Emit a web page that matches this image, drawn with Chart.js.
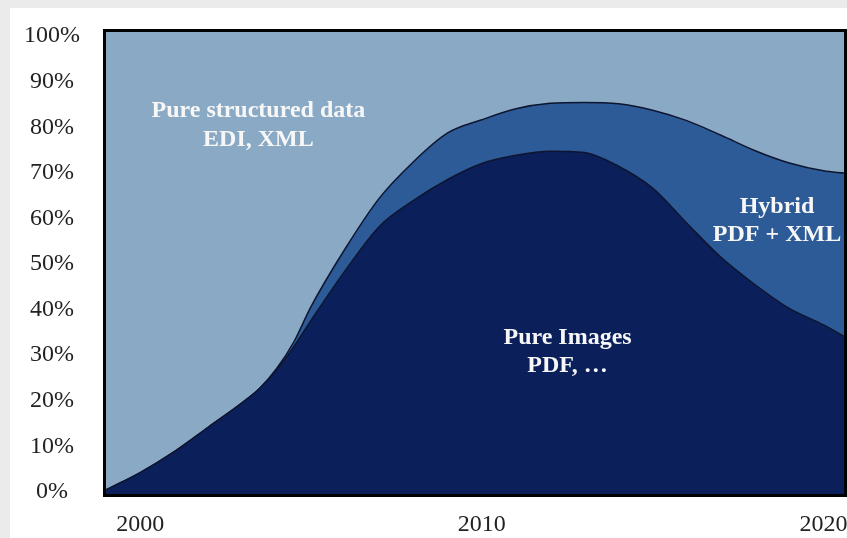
<!DOCTYPE html>
<html><head><meta charset="utf-8">
<script src="https://cdn.jsdelivr.net/npm/chart.js@4/dist/chart.umd.min.js"></script>
<style>
html,body{margin:0;padding:0;background:#ebebeb;overflow:hidden;width:847px;height:538px}
#panel{position:absolute;left:10px;top:8px;width:837px;height:530px;background:#ffffff}
#wrap{position:absolute;left:0;top:0;width:847px;height:538px}
</style></head><body>
<div id="panel"></div>
<div id="wrap"><canvas id="c" width="847" height="538"></canvas></div>
<script>
// Year positions of the sampled boundaries
const years = [1999,2000,2001,2002,2003,2003.5,2004,2004.5,2005,2006,2007,2008,2009,2010,2011,2012,2013,2014,2015,2016,2017,2018,2019,2020,2020.6];
// Share (%) of each format, stacked bottom to top
const pureImages = [0,3.8,8.4,13.8,19.2,22.3,26.4,31.5,37.2,48.1,57.8,63.5,68.1,71.6,73.4,74.3,74.0,71.0,66.2,58.5,51.0,45.0,39.8,36.2,33.7];
const hybrid     = [0,0,0,0,0,0,0.3,1.0,3.0,4.8,6.2,8.5,10.2,9.6,10.2,10.5,11.0,13.7,17.1,22.5,26.8,29.4,31.9,33.8,35.8];
const structured = years.map((_, i) => 100 - pureImages[i] - hybrid[i]);
const seriesNames = ['Pure Images', 'Hybrid', 'Pure structured data'];
const xTicks = [2000, 2010, 2020];
const yTicks = [0,10,20,30,40,50,60,70,80,90,100];
// Text labels: lines, year of centre, share at each line's baseline
const areaLabels = [
  {lines:['Pure structured data','EDI, XML'], x:2003.46, y:[81.8,75.4]},
  {lines:['Pure Images','PDF, …'], x:2012.51, y:[32.0,25.9]},
  {lines:['Hybrid','PDF + XML'], x:2018.64, y:[60.7,54.6]}
];

const C_LIGHT = '#8aa9c4', C_MID = '#2d5b97', C_DARK = '#0b1f5b', C_LINE = '#0e1530';
const toPts = arr => years.map((yr, i) => ({x: yr, y: arr[i]}));

const decor = {
  id: 'decor',
  beforeDatasetsDraw(chart) {
    const {ctx, chartArea: a} = chart;
    ctx.save();
    ctx.fillStyle = C_LIGHT;
    ctx.fillRect(a.left, a.top, a.right - a.left, a.bottom - a.top);
    ctx.restore();
  },
  afterDatasetsDraw(chart) {
    const {ctx, chartArea: a, scales} = chart;
    ctx.save();
    ctx.fillStyle = '#f7f7f7';
    ctx.font = 'bold 24px "Liberation Serif", "Times New Roman", serif';
    ctx.textAlign = 'center';
    ctx.textBaseline = 'alphabetic';
    areaLabels.forEach(l => {
      const px = scales.x.getPixelForValue(l.x);
      l.lines.forEach((t, i) => ctx.fillText(t, px, scales.y.getPixelForValue(l.y[i])));
    });
    ctx.strokeStyle = '#000';
    ctx.lineWidth = 3;
    ctx.strokeRect(a.left - 1.5, a.top - 1.5, a.right - a.left + 3, a.bottom - a.top + 3);
    ctx.restore();
  }
};

new Chart(document.getElementById('c'), {
  type: 'line',
  data: {
    datasets: [
      {label: seriesNames[0], data: toPts(pureImages), backgroundColor: C_DARK, borderColor: C_LINE, borderWidth: 1.5, fill: 'start'},
      {label: seriesNames[1], data: toPts(hybrid), backgroundColor: C_MID, borderColor: C_LINE, borderWidth: 1.5, fill: '-1'},
      {label: seriesNames[2], data: toPts(structured), backgroundColor: C_LIGHT, borderColor: 'rgba(0,0,0,0)', borderWidth: 0, fill: '-1'}
    ]
  },
  options: {
    responsive: false,
    devicePixelRatio: 1,
    animation: false,
    layout: {padding: {left: 0, top: 32, right: 3, bottom: 0}},
    elements: {point: {radius: 0}, line: {cubicInterpolationMode: 'monotone'}},
    plugins: {legend: {display: false}, tooltip: {enabled: false}},
    scales: {
      x: {
        type: 'linear', min: 1999, max: 2020.6,
        grid: {display: false, drawTicks: false}, border: {display: false},
        afterBuildTicks: s => { s.ticks = xTicks.map(v => ({value: v})); },
        afterFit: s => { s.height = 44; s.paddingLeft = 0; s.paddingRight = 0; },
        ticks: {padding: 16, color: '#222', font: {family: '"Liberation Serif", "Times New Roman", serif', size: 24}, callback: v => String(v), maxRotation: 0, autoSkip: false}
      },
      y: {
        type: 'linear', stacked: true, min: -0.9, max: 100.45,
        grid: {display: false, drawTicks: false}, border: {display: false},
        afterBuildTicks: s => { s.ticks = yTicks.map(v => ({value: v})); },
        afterFit: s => { s.width = 106; s.paddingTop = 0; s.paddingBottom = 0; },
        ticks: {padding: 26, labelOffset: 2, crossAlign: 'center', color: '#222', font: {family: '"Liberation Serif", "Times New Roman", serif', size: 24}, callback: v => v + '%'}
      }
    }
  },
  plugins: [decor]
});
</script>
</body></html>
